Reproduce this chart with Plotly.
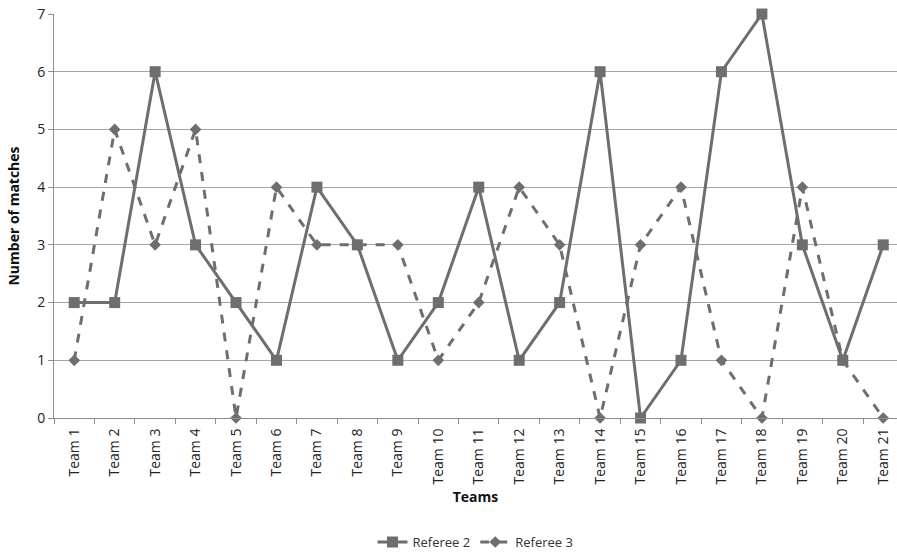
import plotly.graph_objects as go

teams = [f"Team {i}" for i in range(1, 22)]
referee2 = [2, 2, 6, 3, 2, 1, 4, 3, 1, 2, 4, 1, 2, 6, 0, 1, 6, 7, 3, 1, 3]
referee3 = [1, 5, 3, 5, 0, 4, 3, 3, 3, 1, 2, 4, 3, 0, 3, 4, 1, 0, 4, 1, 0]

col = "#6e6e6e"
fig = go.Figure()
fig.add_trace(go.Scatter(x=teams, y=referee2, name="Referee 2", mode="lines+markers",
                         line=dict(color=col, width=3), cliponaxis=False,
                         marker=dict(symbol="square", size=11, color=col)))
fig.add_trace(go.Scatter(x=teams, y=referee3, name="Referee 3", mode="lines+markers",
                         line=dict(color=col, width=3, dash="dash"), cliponaxis=False,
                         marker=dict(symbol="diamond", size=9, color=col)))

fig.update_layout(
    width=897, height=552,
    margin=dict(l=54, r=0, t=14, b=134),
    paper_bgcolor="white", plot_bgcolor="white",
    font=dict(family="Open Sans, Liberation Sans, sans-serif", size=13, color="#222"),
    showlegend=True,
    legend=dict(orientation="h", x=0.5, xanchor="center", yref="container", y=0.018,
                yanchor="middle", font=dict(size=13, color="#333")),
    xaxis=dict(type="category", range=[-0.5, 20.34], showgrid=False, automargin=False,
               showline=True, linecolor="#8c8c8c", linewidth=1,
               ticks="outside", tickson="boundaries", ticklen=5, tickcolor="#8c8c8c",
               tickangle=-90, tickfont=dict(size=14, color="#222"), ticklabeloverflow="allow",
               ticklabelstandoff=4,
               title=dict(text="<b>Teams</b>", font=dict(size=14, color="#111"), standoff=8)),
    yaxis=dict(range=[0, 7], dtick=1, showgrid=True, gridcolor="#a6a6a6", gridwidth=1,
               automargin=False, ticklabeloverflow="allow",
               showline=True, linecolor="#8c8c8c", linewidth=1, zeroline=False,
               ticks="outside", ticklen=5, tickcolor="#8c8c8c",
               tickfont=dict(size=14, color="#222"),
               title=dict(text="<b>Number of matches</b>", font=dict(size=14, color="#111"), standoff=14)),
)
fig.write_html("out.html", config={"displayModeBar": False},
               post_script="document.body.style.margin='0';document.body.style.overflow='hidden';")
